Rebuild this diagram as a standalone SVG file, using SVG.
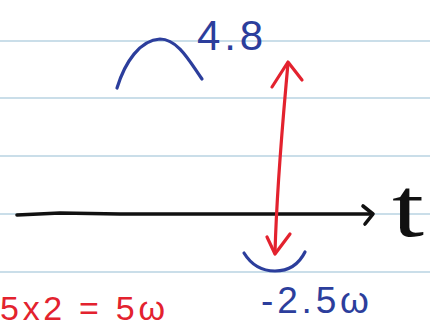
<svg xmlns="http://www.w3.org/2000/svg" width="430" height="327" viewBox="0 0 430 327">
<defs>
<style>
.rule{stroke:#b9d3e2;stroke-width:1.6;fill:none}
.blue{stroke:#2c3e9c;fill:none;stroke-width:3.2;stroke-linecap:round;stroke-linejoin:round}
.red{stroke:#e3222e;fill:none;stroke-width:3.2;stroke-linecap:round;stroke-linejoin:round}
.blk{stroke:#111;fill:none;stroke-width:3.6;stroke-linecap:round;stroke-linejoin:round}
.tb{fill:#2c3e9c;font-family:"Liberation Sans",Arial,sans-serif}
.tr{fill:#e3222e;font-family:"Liberation Sans",Arial,sans-serif}
.tk{fill:#111;font-family:"Liberation Serif","Times New Roman",serif}
</style>
</defs>
<rect width="430" height="327" fill="#ffffff"/>
<g id="rules">
<line class="rule" x1="0" y1="41" x2="430" y2="41"/>
<line class="rule" x1="0" y1="98" x2="430" y2="98"/>
<line class="rule" x1="0" y1="156" x2="430" y2="156"/>
<line class="rule" x1="0" y1="214" x2="430" y2="214"/>
<line class="rule" x1="0" y1="272" x2="430" y2="272"/>
</g>
<g id="connectors">
<g id="time-axis">
<path class="blk" d="M17,215 L60,213 L120,214 L200,214 L372,214"/>
<path class="blk" d="M363,206 L373,214 L365,224"/>
</g>
<g id="amplitude-arrow">
<path class="red" d="M288,63 C283,120 277,180 275,253"/>
<path class="red" d="M272,87 L288,62 L302,80"/>
<path class="red" d="M267,237 L275,254 L290,234"/>
</g>
</g>
<g id="max-arc">
<path class="blue" d="M117,88 C125,62 140,40 160,39 C178,39 190,62 202,79"/>
</g>
<g id="min-arc">
<path class="blue" d="M244,253 C252,266 262,271 275,271 C289,271 299,264 305,252"/>
</g>
<g id="label-max">
<text class="tb" x="197" y="50" font-size="42" textLength="66" lengthAdjust="spacing">4.8</text>
</g>
<g id="label-min">
<text class="tb" x="261" y="313" font-size="37" textLength="108" lengthAdjust="spacing">-2.5ω</text>
</g>
<g id="label-t">
<text class="tk" x="392" y="236" font-size="84" textLength="32" lengthAdjust="spacingAndGlyphs">t</text>
</g>
<g id="label-eq">
<text class="tr" x="0" y="320" font-size="34" textLength="165" lengthAdjust="spacing">5x2 = 5ω</text>
</g>
</svg>
